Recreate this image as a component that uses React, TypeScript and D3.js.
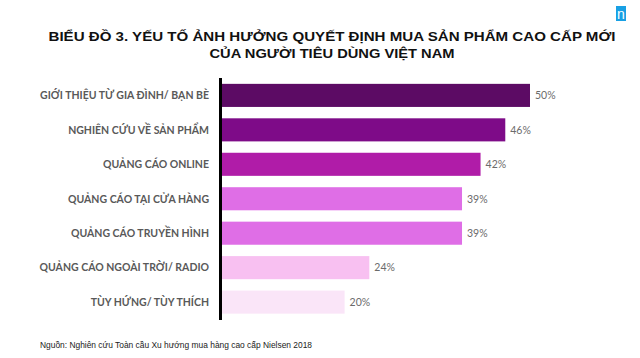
import React from "react";
import * as d3 from "d3";

const categories = [
  "GIỚI THIỆU TỪ GIA ĐÌNH/ BẠN BÈ",
  "NGHIÊN CỨU VỀ SẢN PHẨM",
  "QUẢNG CÁO ONLINE",
  "QUẢNG CÁO TẠI CỬA HÀNG",
  "QUẢNG CÁO TRUYỀN HÌNH",
  "QUẢNG CÁO NGOÀI TRỜI/ RADIO",
  "TÙY HỨNG/ TÙY THÍCH",
];
const values = [50, 46, 42, 39, 39, 24, 20];
const barColors = ["#5c0b64", "#7e0b88", "#b01ca8", "#df6ee6", "#df6ee6", "#f8c0f1", "#fae5f8"];
const titleLines = [
  "BIỂU ĐỒ 3. YẾU TỐ ẢNH HƯỞNG QUYẾT ĐỊNH MUA SẢN PHẨM CAO CẤP MỚI",
  "CỦA NGƯỜI TIÊU DÙNG VIỆT NAM",
];
const titleWidths = [567, 245];
const sourceText = "Nguồn: Nghiên cứu Toàn cầu Xu hướng mua hàng cao cấp Nielsen 2018";

export default function App() {
  const W = 640, H = 358;
  const x0 = 221;
  const x = d3.scaleLinear().domain([0, 50]).range([x0, 530]);
  const y = d3.scaleBand<string>().domain(categories).range([78, 319.5]).paddingInner(0.33).paddingOuter(0.17);
  const labelFont = "Lato, 'Open Sans', sans-serif";
  return (
    <svg width={W} height={H} style={{ position: "absolute", left: 0, top: 0, background: "#fff" }}>
      <rect x={0} y={0} width={W} height={H} fill="#fff" />
      {titleLines.map((t, i) => (
        <text key={i} x={332 - titleWidths[i] / 2} y={41 + i * 16.5} textLength={titleWidths[i]} lengthAdjust="spacingAndGlyphs" fontFamily="'Liberation Sans', Arial, sans-serif" fontWeight="bold" fontSize={13.5} fill="#111">{t}</text>
      ))}
      <rect x={616} y={6} width={10} height={15} fill="#18a0e4" />
      <text x={621} y={18.5} textAnchor="middle" fontFamily="'Liberation Sans', sans-serif" fontSize={14} fill="#fff">n</text>
      {categories.map((c, i) => {
        const by = y(c)!;
        const bh = y.bandwidth();
        return (
          <g key={c}>
            <rect x={x0} y={by} width={x(values[i]) - x0} height={bh} fill={barColors[i]} />
            <text x={209} y={by + bh / 2} dy="0.36em" textAnchor="end" fontFamily={labelFont} fontWeight="bold" fontSize={10.5} fill="#595959">{c}</text>
            <text x={x(values[i]) + 5} y={by + bh / 2} dy="0.36em" fontFamily={labelFont} fontSize={10.5} fill="#6b6b6b">{values[i]}%</text>
          </g>
        );
      })}
      <line x1={220.5} x2={220.5} y1={78} y2={320} stroke="#000" strokeWidth={3} />
      <text x={40} y={348} textLength={272} lengthAdjust="spacingAndGlyphs" fontFamily="'Liberation Sans', Arial, sans-serif" fontSize={9} fill="#222">{sourceText}</text>
    </svg>
  );
}
